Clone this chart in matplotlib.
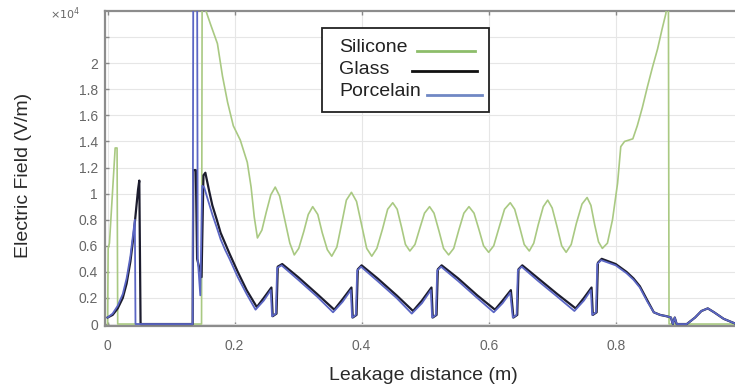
import numpy as np
import matplotlib
matplotlib.use("Agg")
import matplotlib.pyplot as plt
from matplotlib.patches import Rectangle
from matplotlib.lines import Line2D

plt.rcParams['font.family'] = ['Liberation Sans', 'DejaVu Sans']

# values in units of 1e4 V/m, x in metres
sil_x = [0.0, 0.001, 0.003, 0.012, 0.015, 0.016, 0.148, 0.149, 0.155, 0.162,
         0.173, 0.181, 0.189, 0.198, 0.209, 0.220, 0.226, 0.231, 0.236,
         0.243, 0.250, 0.257, 0.264, 0.271, 0.279, 0.287, 0.294,
         0.301, 0.309, 0.316, 0.323, 0.331, 0.338, 0.346, 0.353,
         0.361, 0.369, 0.376, 0.384, 0.392, 0.400, 0.408, 0.416,
         0.424, 0.433, 0.441, 0.449, 0.456, 0.463, 0.469, 0.476,
         0.484, 0.492, 0.499, 0.507, 0.514, 0.522, 0.529, 0.537,
         0.545, 0.553, 0.561, 0.569, 0.577, 0.585, 0.592, 0.600,
         0.608, 0.617, 0.625, 0.634, 0.641, 0.649, 0.656, 0.664,
         0.671, 0.678, 0.686, 0.693, 0.700, 0.708, 0.715, 0.722,
         0.730, 0.738, 0.747, 0.755, 0.761, 0.767, 0.773, 0.779,
         0.787, 0.795, 0.803, 0.808, 0.814, 0.827, 0.834, 0.842, 0.850,
         0.858, 0.866, 0.873, 0.879, 0.883, 0.884, 0.99]
sil_y = [0.0, 0.58, 0.62, 1.35, 1.35, 0.0, 0.0, 2.7, 2.4, 2.3,
         2.15, 1.9, 1.7, 1.52, 1.41, 1.24, 1.05, 0.82, 0.66,
         0.72, 0.86, 0.99, 1.05, 0.98, 0.80, 0.62, 0.53,
         0.58, 0.71, 0.84, 0.90, 0.84, 0.70, 0.57, 0.52,
         0.59, 0.78, 0.95, 1.01, 0.94, 0.76, 0.58, 0.52,
         0.58, 0.73, 0.88, 0.93, 0.88, 0.74, 0.61, 0.56,
         0.61, 0.74, 0.85, 0.90, 0.85, 0.71, 0.58, 0.53,
         0.58, 0.72, 0.85, 0.90, 0.85, 0.72, 0.60, 0.55,
         0.60, 0.75, 0.88, 0.93, 0.88, 0.74, 0.61, 0.56,
         0.62, 0.76, 0.90, 0.95, 0.89, 0.74, 0.60, 0.55,
         0.61, 0.77, 0.92, 0.97, 0.91, 0.76, 0.63, 0.58,
         0.62, 0.80, 1.08, 1.36, 1.40, 1.42, 1.52, 1.66, 1.82,
         1.97, 2.11, 2.26, 2.38, 2.55, 0.0, 0.0]

gls_x = [0.0, 0.008, 0.016, 0.024, 0.030, 0.036, 0.041, 0.045, 0.048, 0.050,
         0.052, 0.053, 0.134, 0.135, 0.139, 0.141, 0.148, 0.151, 0.154,
         0.160, 0.165, 0.172, 0.178, 0.185, 0.192, 0.205, 0.219, 0.235,
         0.246, 0.258, 0.260, 0.266, 0.268, 0.275,
         0.300, 0.330, 0.357, 0.370, 0.384, 0.386, 0.392, 0.394, 0.400,
         0.425, 0.455, 0.481, 0.495, 0.510, 0.512, 0.518, 0.520, 0.526,
         0.552, 0.582, 0.610, 0.622, 0.635, 0.639, 0.645, 0.647, 0.653,
         0.678, 0.708, 0.737, 0.750, 0.762, 0.764, 0.770, 0.772, 0.778,
         0.800, 0.817, 0.828, 0.838, 0.850, 0.860, 0.870, 0.880, 0.887,
         0.890, 0.893, 0.896, 0.900, 0.912, 0.925, 0.935, 0.945, 0.955,
         0.970, 0.990]
gls_y = [0.05, 0.07, 0.12, 0.20, 0.31, 0.48, 0.68, 0.88, 1.03, 1.10,
         0.0, 0.0, 0.0, 1.18, 1.18, 0.50, 0.36, 1.14, 1.16,
         1.02, 0.91, 0.80, 0.70, 0.62, 0.54, 0.40, 0.26, 0.13,
         0.20, 0.28, 0.06, 0.08, 0.44, 0.46,
         0.36, 0.23, 0.11, 0.19, 0.28, 0.05, 0.07, 0.42, 0.45,
         0.35, 0.22, 0.10, 0.18, 0.28, 0.05, 0.07, 0.42, 0.45,
         0.35, 0.22, 0.11, 0.18, 0.26, 0.05, 0.07, 0.42, 0.45,
         0.35, 0.23, 0.12, 0.20, 0.28, 0.07, 0.09, 0.47, 0.50,
         0.46, 0.40, 0.35, 0.29, 0.18, 0.09, 0.07, 0.06, 0.05,
         0.0, 0.05, 0.0, 0.0, 0.0, 0.05, 0.10, 0.12, 0.09,
         0.04, 0.0]

por_x = [0.0, 0.008, 0.016, 0.024, 0.030, 0.036, 0.040, 0.043, 0.044,
         0.134, 0.135, 0.141, 0.142, 0.146, 0.149, 0.152,
         0.160, 0.165, 0.172, 0.178, 0.185, 0.192, 0.205, 0.219, 0.233,
         0.246, 0.257, 0.259, 0.265, 0.267, 0.274,
         0.300, 0.330, 0.355, 0.370, 0.383, 0.385, 0.391, 0.393, 0.399,
         0.425, 0.455, 0.479, 0.495, 0.509, 0.511, 0.517, 0.519, 0.525,
         0.552, 0.582, 0.608, 0.622, 0.634, 0.638, 0.644, 0.646, 0.652,
         0.678, 0.708, 0.735, 0.750, 0.761, 0.763, 0.769, 0.771, 0.777,
         0.800, 0.817, 0.828, 0.838, 0.850, 0.860, 0.870, 0.880, 0.887,
         0.890, 0.893, 0.896, 0.900, 0.912, 0.925, 0.935, 0.945, 0.955,
         0.970, 0.990]
por_y = [0.05, 0.08, 0.14, 0.23, 0.35, 0.52, 0.68, 0.80, 0.0,
         0.0, 2.7, 2.7, 0.50, 0.22, 1.06, 1.05,
         0.92, 0.84, 0.74, 0.65, 0.57, 0.50, 0.36, 0.23, 0.11,
         0.18, 0.26, 0.06, 0.08, 0.43, 0.45,
         0.34, 0.21, 0.09, 0.17, 0.26, 0.05, 0.07, 0.41, 0.44,
         0.33, 0.20, 0.08, 0.16, 0.26, 0.05, 0.07, 0.41, 0.44,
         0.33, 0.20, 0.09, 0.16, 0.24, 0.05, 0.07, 0.41, 0.44,
         0.33, 0.21, 0.10, 0.18, 0.26, 0.07, 0.09, 0.46, 0.49,
         0.45, 0.39, 0.34, 0.28, 0.17, 0.09, 0.07, 0.06, 0.05,
         0.0, 0.05, 0.0, 0.0, 0.0, 0.05, 0.10, 0.12, 0.09,
         0.04, 0.0]

series_names = ["Silicone", "Glass", "Porcelain"]
series_colors = ["#a9c982", "#1c1c2e", "#5b66c4"]
legend_line_colors = ["#8dbd6a", "#111111", "#7088c4"]

xticks = [0, 0.2, 0.4, 0.6, 0.8]
yticks = [0, 0.2, 0.4, 0.6, 0.8, 1.0, 1.2, 1.4, 1.6, 1.8, 2.0, 2.2]
ytick_labels = ["0", "0.2", "0.4", "0.6", "0.8", "1", "1.2", "1.4", "1.6", "1.8", "2", ""]

W, H = 735, 387
fig = plt.figure(figsize=(W / 100, H / 100), dpi=100)
ax = fig.add_axes([105 / W, 1 - 326 / H, 632 / W, 315 / H])

ax.plot(sil_x, sil_y, color=series_colors[0], lw=1.2, zorder=3)
ax.plot(gls_x, gls_y, color=series_colors[1], lw=1.6, zorder=4)
ax.plot(por_x, por_y, color=series_colors[2], lw=1.3, zorder=5)

ax.set_xlim(-0.004, 0.991)
ax.set_ylim(-0.015, 2.4)
ax.set_xticks(xticks)
ax.set_xticklabels(["0", "0.2", "0.4", "0.6", "0.8"])
ax.set_yticks(yticks)
ax.set_yticklabels(ytick_labels)
ax.grid(True, color="#e6e6e6", lw=0.8)
ax.set_axisbelow(True)
ax.tick_params(direction="in", length=3, width=1, color="#888888",
               labelcolor="#666666", labelsize=10, top=True)
ax.tick_params(axis="x", pad=9)
ax.tick_params(axis="y", pad=5)
for s in ["left", "bottom", "top"]:
    ax.spines[s].set_color("#8c8c8c")
    ax.spines[s].set_linewidth(1.6)
ax.spines["right"].set_visible(False)

fig.text(50 / W, 1 - 14 / H, r"$\times10^{4}$", fontsize=8, color="#666666",
         ha="left", va="center")
fig.text(23 / W, 1 - 175 / H, "Electric Field (V/m)", rotation=90,
         fontsize=14, color="#2a2a2a", ha="center", va="center")
fig.text(423 / W, 1 - 375 / H, "Leakage distance (m)", fontsize=14,
         color="#2a2a2a", ha="center", va="center")

# legend box drawn by hand: text left, sample line right
fig.add_artist(Rectangle((322 / W, 1 - 112 / H), 167 / W, 84 / H,
                         transform=fig.transFigure, facecolor="white",
                         edgecolor="#222222", lw=1.3, zorder=10))
text_y = [48, 70, 92]
line_y = [51, 71, 95]
line_x = [(417, 475), (412, 477), (427, 482)]
for i in range(3):
    fig.text(339 / W, 1 - text_y[i] / H, series_names[i], fontsize=14,
             color="#222222", ha="left", va="center", zorder=11)
    fig.add_artist(Line2D([line_x[i][0] / W, line_x[i][1] / W],
                          [1 - line_y[i] / H, 1 - line_y[i] / H],
                          transform=fig.transFigure, color=legend_line_colors[i],
                          lw=2, zorder=11))

fig.savefig("out.png", dpi=100)
